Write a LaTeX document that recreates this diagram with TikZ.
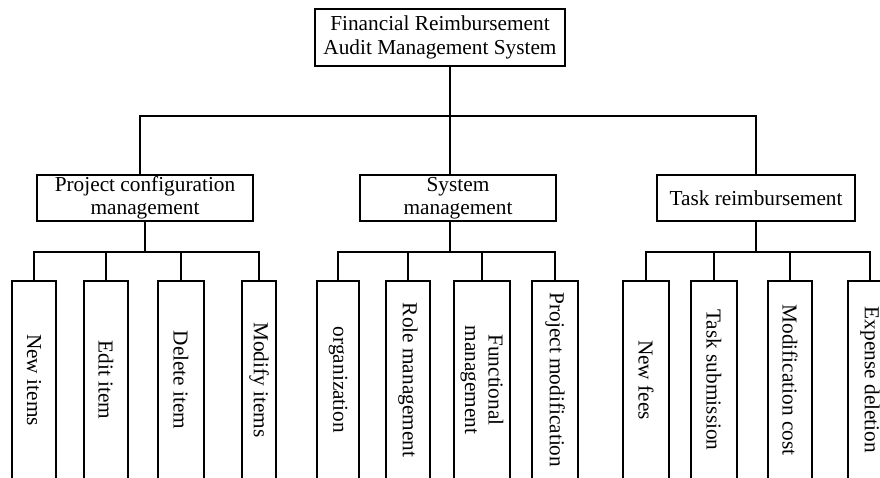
\documentclass[tikz,border=0pt]{standalone}
\usepackage{fontspec}
\setmainfont{Liberation Serif}

\begin{document}
\begin{tikzpicture}[x=1pt, y=-1pt, line width=1.6pt,
  font=\fontsize{21.3}{23.5}\selectfont,
  box/.style={draw, inner sep=0pt, align=center, minimum height=46pt},
  leaf/.style={draw, inner sep=0pt, rotate=-90, align=center, minimum width=198pt}]
  \useasboundingbox (0,0) rectangle (880,477);
  \clip (0,0) rectangle (880,477);

  % root
  \node[box, minimum width=250pt, minimum height=57pt] (root) at (440,37.5)
    {Financial Reimbursement\\Audit Management System};

  % second level
  \node[box, minimum width=216pt] (proj) at (145,198) {Project configuration\\management};
  \node[box, minimum width=196pt] (sys) at (458,198) {System\\management};
  \node[box, minimum width=198pt] (task) at (756,198) {Task reimbursement};

  \draw ([xshift=10pt]root.south) -- ++(0,49) coordinate (roothub);
  \draw ([xshift=-5pt]proj.north) -- ([xshift=-5pt]proj.north |- roothub)
    -- (task.north |- roothub) -- (task.north);
  \draw ([xshift=-8pt]sys.north) -- ([xshift=-8pt]sys.north |- roothub);

  % leaves
  \node[leaf, minimum height=44pt] (newitems) at (34,380) {New items};
  \node[leaf, minimum height=44pt] (edititem) at (106,380) {Edit item};
  \node[leaf, minimum height=46pt] (deleteitem) at (181,380) {Delete item};
  \node[leaf, minimum height=34pt] (modifyitems) at (259,380) {Modify items};

  \node[leaf, minimum height=42pt] (organization) at (338,380) {organization};
  \node[leaf, minimum height=44pt] (rolemgmt) at (408,380) {Role management};
  \node[leaf, minimum height=56pt] (funcmgmt) at (482,380) {Functional\\management};
  \node[leaf, minimum height=46pt] (projmod) at (555,380) {Project modification};

  \node[leaf, minimum height=46pt] (newfees) at (646,380) {New fees};
  \node[leaf, minimum height=46pt] (tasksub) at (714,380) {Task submission};
  \node[leaf, minimum height=44pt] (modcost) at (790,380) {Modification cost};
  \node[leaf, minimum height=44pt] (expdel) at (870,380) {Expense deletion};

  % project configuration branch
  \draw (proj.south) -- ++(0,30) coordinate (projhub);
  \draw (newitems.west) -- (newitems.west |- projhub)
    -- (modifyitems.west |- projhub) -- (modifyitems.west);
  \foreach \leafname in {edititem, deleteitem}
    \draw (\leafname.west |- projhub) -- (\leafname.west);

  % system branch
  \draw ([xshift=-8pt]sys.south) -- ++(0,30) coordinate (syshub);
  \draw (organization.west) -- (organization.west |- syshub)
    -- (projmod.west |- syshub) -- (projmod.west);
  \foreach \leafname in {rolemgmt, funcmgmt}
    \draw (\leafname.west |- syshub) -- (\leafname.west);

  % task branch
  \draw (task.south) -- ++(0,30) coordinate (taskhub);
  \draw (newfees.west) -- (newfees.west |- taskhub)
    -- (expdel.west |- taskhub) -- (expdel.west);
  \foreach \leafname in {tasksub, modcost}
    \draw (\leafname.west |- taskhub) -- (\leafname.west);
\end{tikzpicture}
\end{document}
